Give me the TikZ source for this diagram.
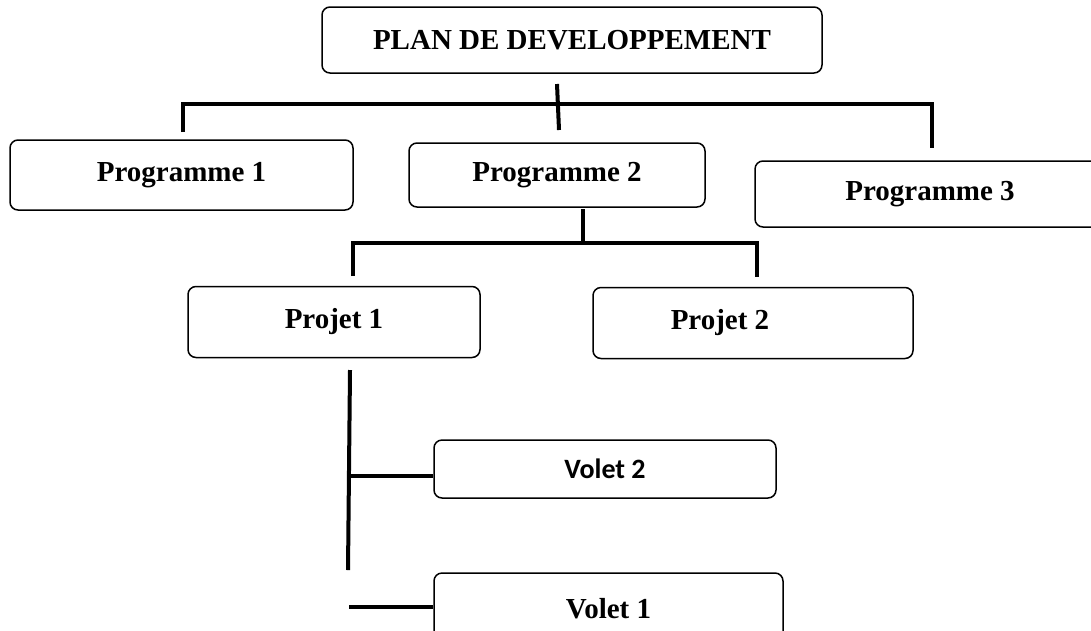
\documentclass[tikz,border=0pt]{standalone}
\usepackage{fontspec}
\setmainfont{Liberation Serif}
\newfontfamily\calib{Carlito}
\begin{document}
\begin{tikzpicture}[x=1pt,y=-1pt,
  box/.style={draw=black,line width=1.5pt,rounded corners=8pt,inner sep=0pt,
    font=\fontsize{29}{34}\selectfont\bfseries},
  bus/.style={draw=black,line width=4pt}]
\useasboundingbox (0,0) rectangle (1091,630);
\clip (0,0) rectangle (1091,630);
% nodes
\node[box,minimum width=500pt,minimum height=66pt] (plan) at (572,40) {PLAN DE DEVELOPPEMENT};
\node[box,minimum width=343pt,minimum height=70pt] (p1) at (181.5,175) {Programme 1};
\node[box,minimum width=296pt,minimum height=64pt] (p2) at (557,175) {Programme 2};
\node[box,minimum width=350pt,minimum height=66pt] (p3) at (930,194) {Programme 3};
\node[box,minimum width=292pt,minimum height=71pt] (pj1) at (334,322) {Projet 1};
\node[box,minimum width=320pt,minimum height=71pt] (pj2) at (753,323) {\hbox{Projet 2\kern66pt}};
\node[box,minimum width=342pt,minimum height=58pt,font=\fontsize{28}{33}\selectfont\calib\bfseries] (v2) at (605,469) {Volet 2};
\node[box,minimum width=349pt,minimum height=72pt] (v1) at (608.5,609) {Volet 1};
% coordinates
\coordinate (b1) at (183,132);
\coordinate (b2) at (183,104);
\coordinate (b3) at (932,104);
\coordinate (b4) at (932,148);
\coordinate (m1) at (557,84);
\coordinate (m2) at (559,130);
\coordinate (s0) at (583,209);
\coordinate (s1) at (583,243);
\coordinate (s2) at (353,276);
\coordinate (s3) at (353,243);
\coordinate (s4) at (757,243);
\coordinate (s5) at (757,277);
\coordinate (t1) at (350,370);
\coordinate (t2) at (348,570);
\coordinate (t3) at (350,476);
\coordinate (t4) at (349,607);
% connectors
\draw[bus] (b1) -- (b2) -- (b3) -- (b4);
\draw[bus] (m1) -- (m2);
\draw[bus] (s0) -- (s1);
\draw[bus] (s2) -- (s3) -- (s4) -- (s5);
\draw[bus] (t1) -- (t2);
\draw[bus] (t3) -- (t3 -| v2.west);
\draw[bus] (t4) -- (t4 -| v1.west);
\end{tikzpicture}
\end{document}
